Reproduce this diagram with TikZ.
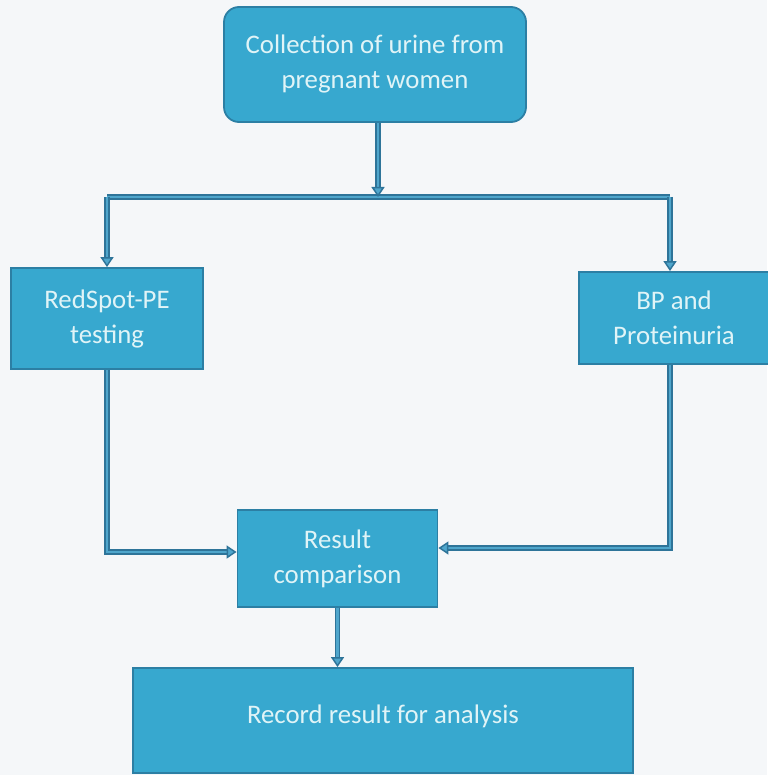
\documentclass[tikz,border=0pt]{standalone}
\usepackage{fontspec}
\setmainfont{Carlito}
\usetikzlibrary{arrows.meta}
\definecolor{boxfill}{HTML}{37A8CF}
\definecolor{boxline}{HTML}{2C7FA4}
\definecolor{boxtext}{HTML}{E0F4F7}
\definecolor{conndark}{HTML}{2E7499}
\definecolor{connlight}{HTML}{4FA6CC}
\definecolor{bg}{HTML}{F5F7F9}
\begin{document}
\begin{tikzpicture}[x=1pt,y=-1pt,
  stepbox/.style={draw=boxline, line width=1.8pt, fill=boxfill, text=boxtext,
    font=\fontsize{26.8}{35}\selectfont, align=center, inner sep=0pt},
  conn/.style={draw=conndark, line width=1.5pt, double=connlight, double distance=2.4pt},
  tip/.style={-{Triangle[length=10pt,width=13pt,fill=connlight]}}
]
\fill[bg] (0,0) rectangle (767,775);
\useasboundingbox (0,0) rectangle (767,775);

\node[stepbox, rounded corners=15pt, minimum width=302pt, minimum height=115pt] (top) at (375,64.5)
  {Collection of urine from\\pregnant women};
\node[stepbox, minimum width=192pt, minimum height=101pt] (red) at (107,318.5)
  {RedSpot-PE\\testing};
\node[stepbox, minimum width=190pt, minimum height=92pt] (bp) at (674,318)
  {BP and\\Proteinuria};
\node[stepbox, minimum width=200pt, minimum height=97pt] (res) at (337.5,558.5)
  {Result\\comparison};
\node[stepbox, minimum width=500pt, minimum height=105pt] (rec) at (383,720.5)
  {\raisebox{12pt}{Record result for analysis}};

\coordinate (j) at (378,197);
\coordinate (jl) at (107,197);
\coordinate (jr) at (670,197);
\coordinate (yl) at (0,552);
\coordinate (yr) at (0,548);

\draw[conn] (jl) -- (jr);
\draw[conn,tip] (top.south -| j) -- (j);
\draw[conn,tip] (jl) -- (red.north);
\draw[conn,tip] (jr) -- (bp.north -| jr);
\draw[conn,tip] (red.south) |- (res.west |- yl);
\draw[conn,tip] (bp.south -| jr) |- (res.east |- yr);
\draw[conn,tip] (res.south) -- (rec.north -| res.south);
\end{tikzpicture}
\end{document}
